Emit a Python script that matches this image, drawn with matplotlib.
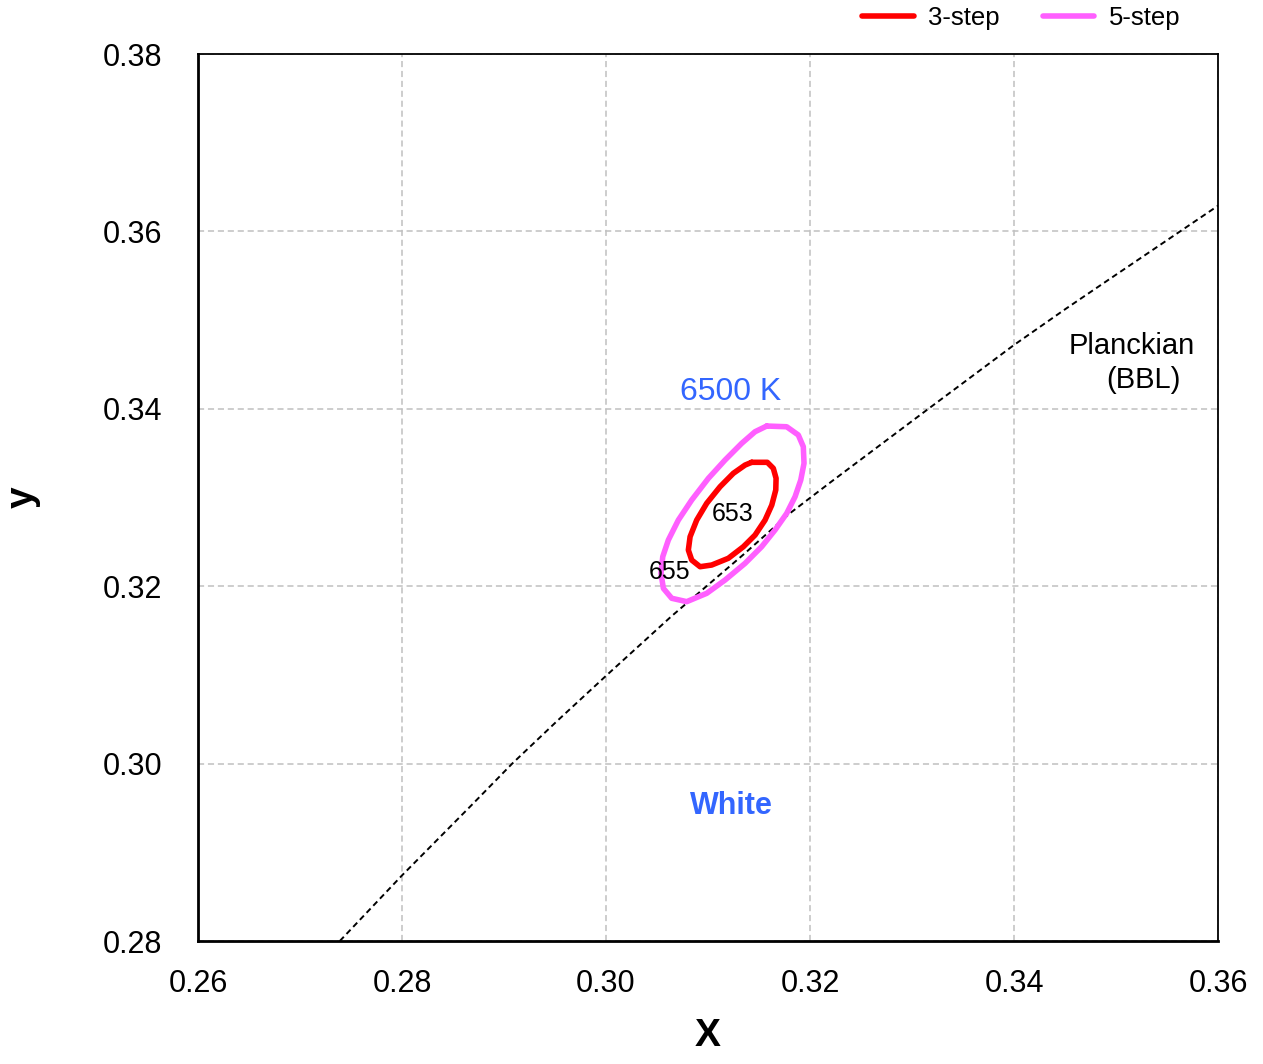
import matplotlib
matplotlib.use("Agg")
import matplotlib.pyplot as plt

plt.rcParams['font.family'] = ['Liberation Sans', 'DejaVu Sans']

# Planckian locus (black body line)
bbl_x = [0.2739, 0.2800, 0.2868, 0.2908, 0.2952, 0.3000, 0.3064, 0.3135,
         0.3180, 0.3221, 0.3316, 0.3400, 0.3451, 0.3492, 0.3600]
bbl_y = [0.2800, 0.2874, 0.2953, 0.3000, 0.3048, 0.3099, 0.3166, 0.3236,
         0.3282, 0.3318, 0.3400, 0.3472, 0.3513, 0.3545, 0.3629]

# 3-step ellipse around 6500 K
step3_x = [0.31428, 0.31581, 0.31640, 0.31667, 0.31664, 0.31625, 0.31559,
           0.31461, 0.31346, 0.31199, 0.31036, 0.30922, 0.30840, 0.30807,
           0.30824, 0.30889, 0.30987, 0.31118, 0.31248, 0.31363, 0.31428]
step3_y = [0.33397, 0.33397, 0.33329, 0.33217, 0.33085, 0.32915, 0.32746,
           0.32577, 0.32445, 0.32315, 0.32239, 0.32220, 0.32295, 0.32408,
           0.32558, 0.32746, 0.32935, 0.33122, 0.33273, 0.33366, 0.33397]

# 5-step ellipse around 6500 K
step5_x = [0.31575, 0.31771, 0.31885, 0.31934, 0.31941, 0.31909, 0.31853,
           0.31771, 0.31657, 0.31526, 0.31363, 0.31167, 0.30987, 0.30791,
           0.30644, 0.30562, 0.30539, 0.30556, 0.30611, 0.30709, 0.30840,
           0.31003, 0.31167, 0.31330, 0.31461, 0.31575]
step5_y = [0.33806, 0.33798, 0.33705, 0.33573, 0.33386, 0.33197, 0.33009,
           0.32821, 0.32634, 0.32446, 0.32258, 0.32070, 0.31920, 0.31826,
           0.31864, 0.31976, 0.32146, 0.32333, 0.32521, 0.32746, 0.32972,
           0.33216, 0.33423, 0.33611, 0.33742, 0.33806]

x_ticks = [0.26, 0.28, 0.30, 0.32, 0.34, 0.36]
y_ticks = [0.28, 0.30, 0.32, 0.34, 0.36, 0.38]

BLUE = '#3366FF'

fig = plt.figure(figsize=(12.63, 10.64), dpi=100)
ax = fig.add_axes([0.1568, 0.1156, 0.8076, 0.8336])

ax.plot(bbl_x, bbl_y, color='black', lw=1.4, ls=(0, (3, 2)), zorder=2)
l3, = ax.plot(step3_x, step3_y, color='#FF0000', lw=4.0, zorder=4,
              solid_joinstyle='round', solid_capstyle='round', label='3-step')
l5, = ax.plot(step5_x, step5_y, color='#FF5FFF', lw=4.0, zorder=3,
              solid_joinstyle='round', solid_capstyle='round', label='5-step')

ax.set_xlim(0.26, 0.36)
ax.set_ylim(0.28, 0.38)
ax.set_xticks(x_ticks)
ax.set_yticks(y_ticks)
ax.set_xticklabels([f'{v:.2f}' for v in x_ticks])
ax.set_yticklabels([f'{v:.2f}' for v in y_ticks])
ax.tick_params(axis='both', length=0, labelsize=22)
ax.tick_params(axis='y', pad=26)
ax.tick_params(axis='x', pad=20)

ax.grid(True, color='#C0C0C0', ls=(0, (4, 2.5)), lw=1.1)
ax.set_axisbelow(True)
for side in ['top', 'right']:
    ax.spines[side].set_linewidth(1.3)
for side in ['left', 'bottom']:
    ax.spines[side].set_linewidth(2.0)

ax.set_xlabel('X', fontsize=28, fontweight='bold', labelpad=14)
ax.set_ylabel('y', fontsize=28, fontweight='bold', labelpad=44)

ax.text(0.31225, 0.3419, '6500 K', color=BLUE, fontsize=23,
        ha='center', va='center')
ax.text(0.31225, 0.2952, 'White', color=BLUE, fontsize=22,
        fontweight='bold', ha='center', va='center')
ax.text(0.31245, 0.3281, '653', fontsize=18, ha='center', va='center')
ax.text(0.30618, 0.3216, '655', fontsize=18, ha='center', va='center')
ax.text(0.3515, 0.3471, 'Planckian', fontsize=21, ha='center', va='center')
ax.text(0.35265, 0.3432, '(BBL)', fontsize=21, ha='center', va='center')

fig.legend(handles=[l3, l5], loc='center', bbox_to_anchor=(0.8085, 0.983),
           ncol=2, frameon=False, fontsize=18.5, handlelength=2.0,
           handletextpad=0.55, columnspacing=1.7)

fig.savefig('out.png', dpi=100)
